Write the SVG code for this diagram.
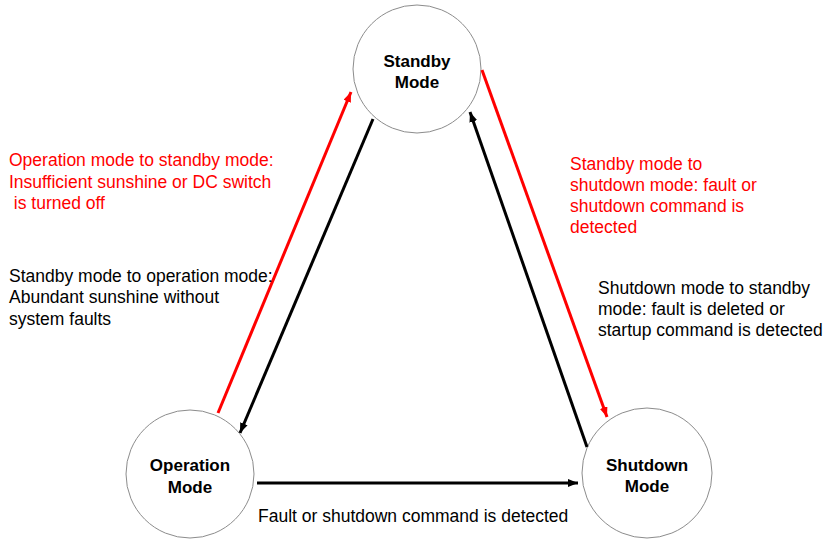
<svg xmlns="http://www.w3.org/2000/svg" width="826" height="541" viewBox="0 0 826 541">
<defs>
<style>
.node circle{fill:#fff;stroke:#8c8c8c;stroke-width:1}
.node text{font-family:"Liberation Sans",Arial,sans-serif;font-size:17px;font-weight:bold;text-anchor:middle;fill:#000}
.lbl{font-family:"Liberation Sans",Arial,sans-serif;font-size:17.5px;fill:#000;white-space:pre}
.red{fill:#f00}
.ck{stroke:#000;stroke-width:3;fill:none}
.cr{stroke:#f00;stroke-width:3;fill:none}
</style>
<marker id="ak" viewBox="0 0 10 8" refX="10" refY="4" markerWidth="10" markerHeight="8" markerUnits="userSpaceOnUse" orient="auto"><path d="M0,0 L10,4 L0,8 Z" fill="#000"/></marker>
<marker id="ar" viewBox="0 0 10 8" refX="10" refY="4" markerWidth="10" markerHeight="8" markerUnits="userSpaceOnUse" orient="auto"><path d="M0,0 L10,4 L0,8 Z" fill="#f00"/></marker>
</defs>
<rect width="826" height="541" fill="#fff"/>
<g id="standby" class="node"><circle cx="417" cy="69" r="64"/><text x="417" y="67">Standby</text><text x="417" y="88">Mode</text></g>
<g id="operation" class="node"><circle cx="190" cy="474" r="64"/><text x="190" y="471">Operation</text><text x="190" y="493">Mode</text></g>
<g id="shutdown" class="node"><circle cx="647" cy="473" r="65"/><text x="647" y="471">Shutdown</text><text x="647" y="492">Mode</text></g>
<g id="connectors">
<line class="cr" x1="218" y1="413" x2="351" y2="92" marker-end="url(#ar)"/>
<line class="ck" x1="373" y1="119" x2="240" y2="433" marker-end="url(#ak)"/>
<line class="cr" x1="482" y1="70" x2="607" y2="417" marker-end="url(#ar)"/>
<line class="ck" x1="587" y1="447" x2="470" y2="112" marker-end="url(#ak)"/>
<line class="ck" x1="257" y1="483" x2="578" y2="483" marker-end="url(#ak)"/>
</g>
<g id="labels">
<text class="lbl red" x="9" y="166">Operation mode to standby mode:</text>
<text class="lbl red" x="9" y="188">Insufficient sunshine or DC switch</text>
<text class="lbl red" x="9" y="209" xml:space="preserve"> is turned off</text>
<text class="lbl" x="9" y="282">Standby mode to operation mode:</text>
<text class="lbl" x="9" y="303">Abundant sunshine without</text>
<text class="lbl" x="9" y="325">system faults</text>
<text class="lbl red" x="570" y="170">Standby mode to</text>
<text class="lbl red" x="570" y="191">shutdown mode: fault or</text>
<text class="lbl red" x="570" y="212">shutdown command is</text>
<text class="lbl red" x="570" y="233">detected</text>
<text class="lbl" x="598" y="294">Shutdown mode to standby</text>
<text class="lbl" x="598" y="315">mode: fault is deleted or</text>
<text class="lbl" x="598" y="336">startup command is detected</text>
<text class="lbl" x="258" y="522">Fault or shutdown command is detected</text>
</g>
</svg>
